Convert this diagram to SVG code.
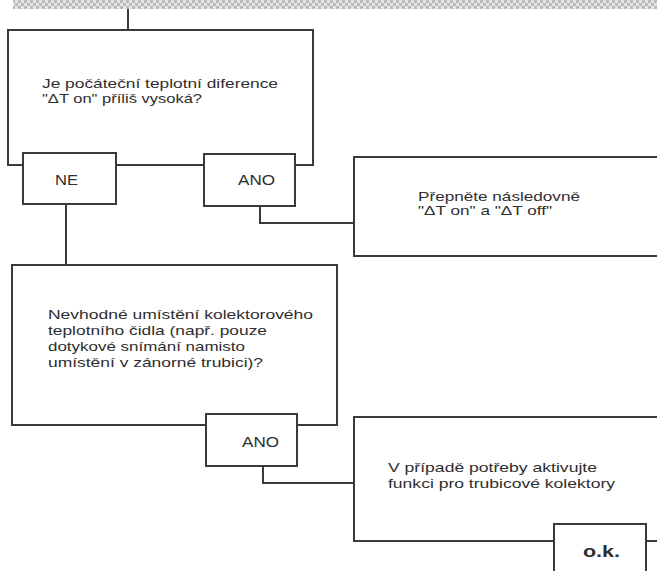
<svg xmlns="http://www.w3.org/2000/svg" width="657" height="571" viewBox="0 0 657 571">
  <style>
    .box { fill: none; stroke: #3a3a3a; stroke-width: 2; }
    .wire { fill: none; stroke: #3a3a3a; stroke-width: 2; }
    .t { font-family: "Liberation Sans", Arial, sans-serif; font-size: 13.5px; fill: #2e2e2e; }
    .lbl { font-family: "Liberation Sans", Arial, sans-serif; font-size: 15px; fill: #2e2e2e; }
    .ok { font-family: "Liberation Sans", Arial, sans-serif; font-size: 16px; font-weight: bold; fill: #2e2e2e; }
  </style>
  <defs>
    <pattern id="checker" x="0" y="0" width="6" height="6" patternUnits="userSpaceOnUse">
      <rect width="6" height="6" fill="#e4e4e4"/>
      <rect width="3" height="3" fill="#bcbcbc"/>
      <rect x="3" y="3" width="3" height="3" fill="#bcbcbc"/>
    </pattern>
  </defs>

  <rect width="657" height="571" fill="#ffffff"/>
  <rect x="13" y="0" width="644" height="9" fill="url(#checker)"/>

  <!-- connectors -->
  <g id="connectors">
    <path class="wire" d="M128,9 V30"/>
    <path class="wire" d="M116,165 H204"/>
    <path class="wire" d="M66,204 V265"/>
    <path class="wire" d="M260,206 V223 H354"/>
    <path class="wire" d="M263,466 V483 H354"/>
    <path class="wire" d="M646,541 H657"/>
  </g>

  <!-- question 1 -->
  <g id="q1">
    <path class="box" d="M23,165 H8 V30 H313 V165 H295"/>
    <text class="t" x="42" y="88" textLength="236" lengthAdjust="spacingAndGlyphs">Je počáteční teplotní diference</text>
    <text class="t" x="42" y="103" textLength="160" lengthAdjust="spacingAndGlyphs">"ΔT on" příliš vysoká?</text>
  </g>

  <g id="q1-ne">
    <rect class="box" x="23" y="153" width="93" height="51"/>
    <text class="lbl" x="55" y="185" textLength="23" lengthAdjust="spacingAndGlyphs">NE</text>
  </g>

  <g id="q1-ano">
    <rect class="box" x="204" y="154" width="91" height="52"/>
    <text class="lbl" x="238" y="185" textLength="37" lengthAdjust="spacingAndGlyphs">ANO</text>
  </g>

  <!-- action 1 -->
  <g id="a1">
    <path class="box" d="M657,157 H354 V256 H657"/>
    <text class="t" x="418" y="201" textLength="162" lengthAdjust="spacingAndGlyphs">Přepněte následovně</text>
    <text class="t" x="418" y="215" textLength="134" lengthAdjust="spacingAndGlyphs">"ΔT on" a "ΔT off"</text>
  </g>

  <!-- question 2 -->
  <g id="q2">
    <path class="box" d="M206,425 H12 V265 H337 V425 H297"/>
    <text class="t" x="48" y="319" textLength="265" lengthAdjust="spacingAndGlyphs">Nevhodné umístění kolektorového</text>
    <text class="t" x="48" y="335" textLength="219" lengthAdjust="spacingAndGlyphs">teplotního čidla (např. pouze</text>
    <text class="t" x="48" y="351" textLength="197" lengthAdjust="spacingAndGlyphs">dotykové snímání namisto</text>
    <text class="t" x="48" y="367" textLength="215" lengthAdjust="spacingAndGlyphs">umístění v zánorné trubici)?</text>
  </g>

  <g id="q2-ano">
    <rect class="box" x="206" y="414" width="91" height="52"/>
    <text class="lbl" x="242" y="447" textLength="37" lengthAdjust="spacingAndGlyphs">ANO</text>
  </g>

  <!-- action 2 -->
  <g id="a2">
    <path class="box" d="M657,417 H354 V541 H554"/>
    <text class="t" x="388" y="472" textLength="209" lengthAdjust="spacingAndGlyphs">V případě potřeby aktivujte</text>
    <text class="t" x="388" y="488" textLength="227" lengthAdjust="spacingAndGlyphs">funkci pro trubicové kolektory</text>
  </g>

  <g id="ok">
    <path class="box" d="M554,575 V524 H646 V575"/>
    <text class="ok" x="583" y="557" textLength="37" lengthAdjust="spacingAndGlyphs">o.k.</text>
  </g>
</svg>
